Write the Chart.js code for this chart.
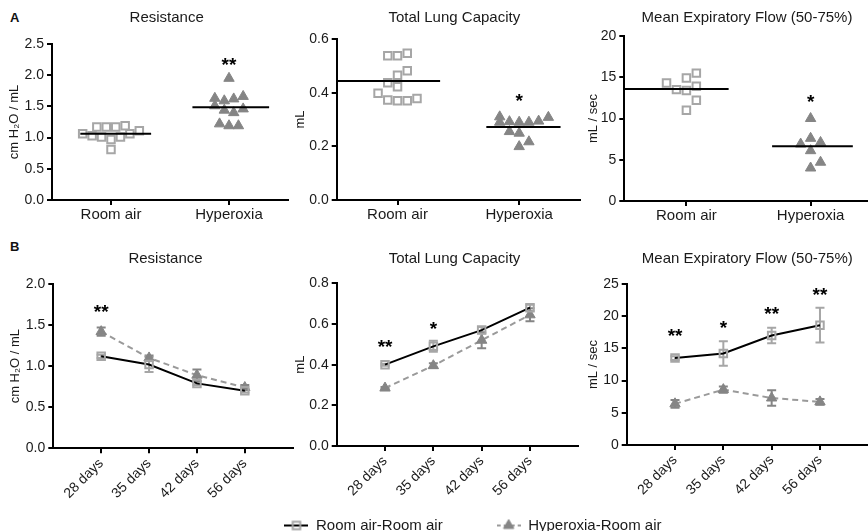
<!DOCTYPE html>
<html>
<head>
<meta charset="utf-8">
<script src="https://cdn.jsdelivr.net/npm/chart.js@4.4.1/dist/chart.umd.min.js"></script>
<style>
html, body { margin: 0; padding: 0; width: 868px; height: 531px; overflow: hidden; background: #fff; }
body { position: relative; }
canvas { position: absolute; }
.lbl { position: absolute; font: bold 13px 'Liberation Sans', Arial, sans-serif; line-height: 13px; color: #111; }
</style>
</head>
<body>
<div class="lbl" style="left:10px;top:11px">A</div>
<div class="lbl" style="left:10px;top:240px">B</div>
<canvas id="a1"></canvas>
<canvas id="a2"></canvas>
<canvas id="a3"></canvas>
<canvas id="b1"></canvas>
<canvas id="b2"></canvas>
<canvas id="b3"></canvas>
<canvas id="legend"></canvas>
<script>
// ---------------- DATA ----------------
const groups = ['Room air', 'Hyperoxia'];
const days = ['28 days', '35 days', '42 days', '56 days'];
const seriesNames = ['Room air-Room air', 'Hyperoxia-Room air'];

// Panel A: individual animals (value, beeswarm column index)
const resRoomVals = [1.06, 1.03, 1.17, 1.01, 1.17, 0.97, 1.17, 1.01, 1.19, 1.06, 1.11, 0.81];
const resRoomCols = [-6, -4, -3, -2, -1, 0, 1, 2, 3, 4, 6, 0];
const resHypVals  = [1.95, 1.63, 1.59, 1.62, 1.66, 1.51, 1.44, 1.40, 1.46, 1.22, 1.19, 1.19];
const resHypCols  = [0, -3, -1, 1, 3, -3, -1, 1, 3, -2, 0, 2];

const tlcRoomVals = [0.538, 0.538, 0.547, 0.482, 0.465, 0.437, 0.422, 0.398, 0.373, 0.370, 0.370, 0.378];
const tlcRoomCols = [-2, 0, 2, 2, 0, -2, 0, -4, -2, 0, 2, 4];
const tlcHypVals  = [0.310, 0.290, 0.292, 0.290, 0.290, 0.294, 0.308, 0.255, 0.249, 0.217, 0.199];
const tlcHypCols  = [-4, -4, -2, 0, 2, 4, 6, -2, 0, 2, 0];

const mefRoomVals = [14.3, 13.5, 14.9, 13.4, 15.5, 13.9, 12.2, 11.0];
const mefRoomCols = [-4, -2, 0, 0, 2, 2, 2, 0];
const mefHypVals  = [10.0, 7.6, 6.9, 7.1, 6.1, 4.7, 4.0];
const mefHypCols  = [0, 0, -2, 2, 0, 2, 0];

// Panel B: means and SEM over time
const resRA = [1.12, 1.02, 0.79, 0.70];
const resRAsem = [0.02, 0.09, 0.02, 0.02];
const resHO = [1.42, 1.10, 0.89, 0.74];
const resHOsem = [0.05, 0.03, 0.07, 0.03];

const tlcRA = [0.40, 0.49, 0.57, 0.68];
const tlcRAsem = [0.005, 0.027, 0.015, 0.015];
const tlcHO = [0.285, 0.395, 0.52, 0.645];
const tlcHOsem = [0.005, 0.012, 0.039, 0.032];

const mefRA = [13.5, 14.2, 17.0, 18.6];
const mefRAsem = [0.3, 1.9, 1.2, 2.7];
const mefHO = [6.4, 8.6, 7.3, 6.7];
const mefHOsem = [0.6, 0.5, 1.2, 0.45];

// significance marks: [text, x (category position), y (value)]
const resAStars = [['**', 1.5, 2.25]];
const tlcAStars = [['*', 1.5, 0.388]];
const mefAStars = [['*', 1.5, 12.6]];
const resBStars = [['**', 1, 1.72]];
const tlcBStars = [['**', 1, 0.51], ['*', 2, 0.60]];
const mefBStars = [['**', 1, 17.7], ['*', 2, 19.0], ['**', 3, 21.1], ['**', 4, 24.1]];

// ---------------- STYLE / LAYOUT ----------------
const FONT = "'Liberation Sans', Arial, Helvetica, sans-serif";
const INK = '#1a1a1a';
const SQUARE = '#a6a6a6';
const TRI = '#858585';
const DASH = '#9a9a9a';
const JITTER = 0.04;

Chart.defaults.font.family = FONT;
Chart.defaults.color = INK;

const GEOM = {
  a1: {cx: 0,   cy: 0,   cw: 300, ch: 232, L: 52,    T: 44,    R: 288,   B: 200,   titleX: 166.7, titleBase: 22,  yTitleX: 14},
  a2: {cx: 290, cy: 0,   cw: 300, ch: 232, L: 336.7, T: 39,    R: 580,   B: 200,   titleX: 454.3, titleBase: 22,  yTitleX: 300},
  a3: {cx: 580, cy: 0,   cw: 300, ch: 232, L: 624.3, T: 36,    R: 874,   B: 201,   titleX: 747,   titleBase: 22,  yTitleX: 593},
  b1: {cx: 0,   cy: 236, cw: 300, ch: 270, L: 53.3,  T: 284,   R: 295,   B: 448.3, titleX: 165.5, titleBase: 263, yTitleX: 15},
  b2: {cx: 290, cy: 236, cw: 300, ch: 270, L: 336.7, T: 283.3, R: 578.3, B: 446,   titleX: 454.5, titleBase: 263, yTitleX: 300.7},
  b3: {cx: 580, cy: 236, cw: 300, ch: 270, L: 626.7, T: 284,   R: 868.3, B: 445,   titleX: 747.3, titleBase: 263, yTitleX: 593},
  legend: {cx: 173, cy: 464, cw: 600, ch: 200}
};

function place(id, g) {
  const c = document.getElementById(id);
  c.width = g.cw; c.height = g.ch;
  c.style.left = g.cx + 'px'; c.style.top = g.cy + 'px';
  c.style.width = g.cw + 'px'; c.style.height = g.ch + 'px';
  return c;
}

const mean = a => a.reduce((s, v) => s + v, 0) / a.length;
const jitterData = (vals, cols, center) => vals.map((v, i) => ({x: center + cols[i] * JITTER, y: v}));
const series = vals => vals.map((v, i) => ({x: i + 1, y: v}));

function decor(g, o) {
  return {
    id: 'decor',
    beforeDatasetsDraw(chart) {
      const ctx = chart.ctx, ys = chart.scales.y;
      chart.data.datasets.forEach((ds, i) => {
        if (!ds.errors) return;
        const meta = chart.getDatasetMeta(i);
        ctx.save();
        ctx.strokeStyle = ds.errorColor;
        ctx.lineWidth = 2;
        meta.data.forEach((pt, j) => {
          const v = ds.data[j].y, e = ds.errors[j];
          const top = ys.getPixelForValue(v + e), bot = ys.getPixelForValue(v - e);
          ctx.beginPath();
          ctx.moveTo(pt.x, top); ctx.lineTo(pt.x, bot);
          ctx.moveTo(pt.x - 4.5, top); ctx.lineTo(pt.x + 4.5, top);
          ctx.moveTo(pt.x - 4.5, bot); ctx.lineTo(pt.x + 4.5, bot);
          ctx.stroke();
        });
        ctx.restore();
      });
    },
    afterDatasetsDraw(chart) {
      const ctx = chart.ctx, xs = chart.scales.x, ys = chart.scales.y;
      ctx.save();
      ctx.font = 'bold 19px ' + FONT;
      ctx.fillStyle = '#000';
      ctx.textAlign = 'center';
      ctx.textBaseline = 'alphabetic';
      (o.stars || []).forEach(([t, xv, yv]) => ctx.fillText(t, xs.getPixelForValue(xv), ys.getPixelForValue(yv) + 11));
      ctx.restore();
    },
    afterDraw(chart) {
      const ctx = chart.ctx;
      ctx.save();
      ctx.font = '15px ' + FONT;
      ctx.fillStyle = INK;
      ctx.textAlign = 'center';
      ctx.textBaseline = 'alphabetic';
      ctx.fillText(o.title, g.titleX - g.cx, g.titleBase - g.cy);
      ctx.restore();
    }
  };
}

const gridOpts = {display: true, drawOnChartArea: false, drawTicks: true, tickLength: 5, tickWidth: 2, tickColor: '#000', color: '#000', lineWidth: 2};
const borderOpts = {display: true, color: '#000', width: 2};

function yAxis(g, o) {
  return {
    type: 'linear', min: 0, max: o.ymax,
    ticks: {stepSize: o.step, callback: v => Number(v).toFixed(o.dec), font: {size: 14}, color: INK, padding: 3},
    grid: gridOpts, border: borderOpts,
    title: {display: true, text: o.yTitle, font: {size: 13}, color: INK, padding: {top: g.yTitleX - g.cx - 7.8, bottom: 0}},
    afterFit: s => { s.width = g.L - g.cx; }
  };
}

function baseOptions(g) {
  return {
    responsive: false, animation: false, events: [],
    layout: {padding: {top: g.T - g.cy, right: g.cx + g.cw - g.R, bottom: 0, left: 0}},
    plugins: {legend: {display: false}, tooltip: {enabled: false}, title: {display: false}}
  };
}

function scatterPanel(id, o) {
  const g = GEOM[id];
  const opts = baseOptions(g);
  opts.scales = {
    x: {
      type: 'linear', min: 0, max: 2,
      afterBuildTicks: s => { s.ticks = groups.map((_, i) => ({value: i + 0.5})); },
      ticks: {callback: (v, i) => groups[i], font: {size: 15}, color: INK, padding: 1, autoSkip: false, minRotation: 0, maxRotation: 0},
      grid: gridOpts, border: borderOpts,
      afterFit: s => { s.height = g.cy + g.ch - g.B; }
    },
    y: yAxis(g, o)
  };
  const mr = mean(o.room), mh = mean(o.hyp);
  new Chart(place(id, g), {
    type: 'scatter',
    data: {datasets: [
      {type: 'line', data: [{x: 0.5 + o.spans[0][0], y: mr}, {x: 0.5 + o.spans[0][1], y: mr}], borderColor: '#000', borderWidth: 2, pointRadius: 0, fill: false},
      {type: 'line', data: [{x: 1.5 + o.spans[1][0], y: mh}, {x: 1.5 + o.spans[1][1], y: mh}], borderColor: '#000', borderWidth: 2, pointRadius: 0, fill: false},
      {label: groups[0], data: jitterData(o.room, o.roomCols, 0.5), showLine: false, pointStyle: 'rect', pointRadius: 5.3, pointBorderWidth: 2, pointBorderColor: SQUARE, pointBackgroundColor: 'rgba(255,255,255,0)'},
      {label: groups[1], data: jitterData(o.hyp, o.hypCols, 1.5), showLine: false, pointStyle: 'triangle', pointRadius: 6, pointBorderWidth: 1, pointBorderColor: TRI, pointBackgroundColor: TRI}
    ]},
    options: opts,
    plugins: [decor(g, o)]
  });
}

function linePanel(id, o) {
  const g = GEOM[id];
  const opts = baseOptions(g);
  opts.scales = {
    x: {
      type: 'linear', min: 0, max: 5,
      afterBuildTicks: s => { s.ticks = days.map((_, i) => ({value: i + 1})); },
      ticks: {callback: (v, i) => days[i], font: {size: 14}, color: INK, padding: 2, autoSkip: false, minRotation: 45, maxRotation: 45},
      grid: gridOpts, border: borderOpts,
      afterFit: s => { s.height = g.cy + g.ch - g.B; }
    },
    y: yAxis(g, o)
  };
  new Chart(place(id, g), {
    type: 'line',
    data: {datasets: [
      {label: seriesNames[0], data: series(o.ra), errors: o.raErr, errorColor: SQUARE, borderColor: '#000', borderWidth: 2, tension: 0, fill: false,
       pointStyle: 'rect', pointRadius: 5.3, pointBorderWidth: 2, pointBorderColor: SQUARE, pointBackgroundColor: 'rgba(255,255,255,0)'},
      {label: seriesNames[1], data: series(o.ho), errors: o.hoErr, errorColor: TRI, borderColor: DASH, borderDash: [6, 4], borderWidth: 2, tension: 0, fill: false,
       pointStyle: 'triangle', pointRadius: 6, pointBorderWidth: 1, pointBorderColor: TRI, pointBackgroundColor: TRI}
    ]},
    options: opts,
    plugins: [decor(g, o)]
  });
}

scatterPanel('a1', {title: 'Resistance', yTitle: 'cm H\u2082O / mL', ymax: 2.5, step: 0.5, dec: 1,
  room: resRoomVals, roomCols: resRoomCols, hyp: resHypVals, hypCols: resHypCols, stars: resAStars, spans: [[-0.26, 0.34], [-0.31, 0.34]]});
scatterPanel('a2', {title: 'Total Lung Capacity', yTitle: 'mL', ymax: 0.6, step: 0.2, dec: 1,
  room: tlcRoomVals, roomCols: tlcRoomCols, hyp: tlcHypVals, hypCols: tlcHypCols, stars: tlcAStars, spans: [[-0.49, 0.35], [-0.27, 0.34]]});
scatterPanel('a3', {title: 'Mean Expiratory Flow (50-75%)', yTitle: 'mL / sec', ymax: 20, step: 5, dec: 0,
  room: mefRoomVals, roomCols: mefRoomCols, hyp: mefHypVals, hypCols: mefHypCols, stars: mefAStars, spans: [[-0.5, 0.34], [-0.31, 0.34]]});

linePanel('b1', {title: 'Resistance', yTitle: 'cm H\u2082O / mL', ymax: 2.0, step: 0.5, dec: 1,
  ra: resRA, raErr: resRAsem, ho: resHO, hoErr: resHOsem, stars: resBStars});
linePanel('b2', {title: 'Total Lung Capacity', yTitle: 'mL', ymax: 0.8, step: 0.2, dec: 1,
  ra: tlcRA, raErr: tlcRAsem, ho: tlcHO, hoErr: tlcHOsem, stars: tlcBStars});
linePanel('b3', {title: 'Mean Expiratory Flow (50-75%)', yTitle: 'mL / sec', ymax: 25, step: 5, dec: 0,
  ra: mefRA, raErr: mefRAsem, ho: mefHO, hoErr: mefHOsem, stars: mefBStars});

// ---------------- LEGEND ----------------
function legendSample(kind) {
  const c = document.createElement('canvas');
  c.width = 24; c.height = 14;
  const x = c.getContext('2d');
  x.lineWidth = 2;
  x.strokeStyle = kind === 0 ? '#000' : DASH;
  x.setLineDash(kind === 0 ? [] : [4, 3]);
  x.beginPath(); x.moveTo(0, 7); x.lineTo(24, 7); x.stroke();
  x.setLineDash([]);
  const style = kind === 0
    ? {pointStyle: 'rect', radius: 5.3, borderWidth: 2}
    : {pointStyle: 'triangle', radius: 6, borderWidth: 1};
  x.lineWidth = style.borderWidth;
  x.strokeStyle = kind === 0 ? SQUARE : TRI;
  x.fillStyle = kind === 0 ? 'rgba(255,255,255,0)' : TRI;
  if (Chart.helpers && Chart.helpers.drawPoint) {
    Chart.helpers.drawPoint(x, style, 12, 7);
  } else if (kind === 0) {
    x.strokeRect(8.25, 3.25, 7.5, 7.5);
  } else {
    x.beginPath(); x.moveTo(12, 1); x.lineTo(17.2, 10); x.lineTo(6.8, 10); x.closePath(); x.fill();
  }
  return c;
}
const samples = [legendSample(0), legendSample(1)];

new Chart(place('legend', GEOM.legend), {
  type: 'line',
  data: {datasets: seriesNames.map(n => ({label: n, data: []}))},
  options: {
    responsive: false, animation: false, events: [],
    scales: {x: {display: false}, y: {display: false}},
    plugins: {
      tooltip: {enabled: false},
      legend: {display: true, position: 'top', maxHeight: 150, labels: {
        usePointStyle: true, pointStyleWidth: 24, padding: 54, font: {size: 15}, color: INK,
        generateLabels: () => seriesNames.map((t, i) => ({text: t, pointStyle: samples[i], fillStyle: 'rgba(0,0,0,0)', strokeStyle: 'rgba(0,0,0,0)', lineWidth: 0, hidden: false, datasetIndex: i, fontColor: INK}))
      }}
    }
  }
});
</script>
</body>
</html>
